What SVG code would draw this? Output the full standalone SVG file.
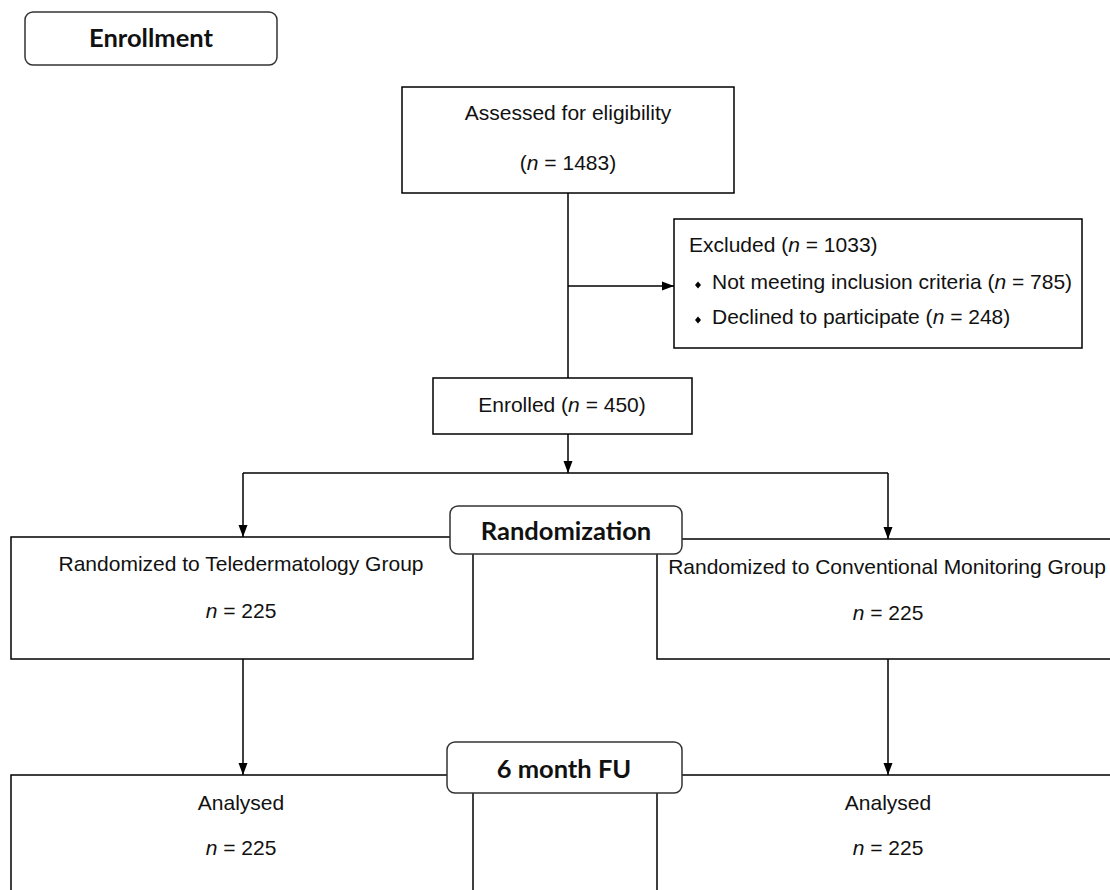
<svg xmlns="http://www.w3.org/2000/svg" width="1110" height="890" viewBox="0 0 1110 890">
<defs>
<marker id="arr" markerUnits="userSpaceOnUse" markerWidth="12" markerHeight="10" refX="12" refY="5" orient="auto">
<path d="M0,0.5 L12,5 L0,9.5 Z" fill="#000"/>
</marker>
</defs>
<style>
.box{fill:#fff;stroke:#000;stroke-width:1.5}
.rbox{fill:#fff;stroke:#333;stroke-width:1.5}
.t{font-family:"Liberation Sans",Arial,sans-serif;font-size:21px;fill:#111}
.b{font-family:Lato,"Open Sans",sans-serif;font-weight:bold;font-size:25.5px;fill:#111}
.c{stroke:#000;stroke-width:1.5;fill:none}
</style>
<rect width="1110" height="890" fill="#fff"/>
<g id="connectors">
<path class="c" d="M568,193 V378"/>
<path class="c" d="M568,286 H674" marker-end="url(#arr)"/>
<path class="c" d="M568,434 V473" marker-end="url(#arr)"/>
<path class="c" d="M243,473 H888"/>
<path class="c" d="M243,473 V537" marker-end="url(#arr)"/>
<path class="c" d="M888,473 V539" marker-end="url(#arr)"/>
<path class="c" d="M243,659 V775" marker-end="url(#arr)"/>
<path class="c" d="M888,659 V775" marker-end="url(#arr)"/>
</g>
<g id="enrollment">
<rect class="rbox" x="25" y="12" width="252" height="53" rx="8"/>
<text class="b" x="151" y="47" text-anchor="middle">Enrollment</text>
</g>
<g id="assessed">
<rect class="box" x="402" y="87" width="332" height="106"/>
<text class="t" x="568" y="120" text-anchor="middle">Assessed for eligibility</text>
<text class="t" x="568" y="170" text-anchor="middle">(<tspan font-style="italic">n</tspan> = 1483)</text>
</g>
<g id="excluded">
<rect class="box" x="674" y="219" width="408" height="129"/>
<text class="t" x="689" y="252">Excluded (<tspan font-style="italic">n</tspan> =  1033)</text>
<path d="M695,285 l3,-3.5 l3,3.5 l-3,3.5 Z" fill="#000"/>
<text class="t" x="712" y="289">Not meeting inclusion criteria (<tspan font-style="italic">n</tspan> = 785)</text>
<path d="M695,320 l3,-3.5 l3,3.5 l-3,3.5 Z" fill="#000"/>
<text class="t" x="712" y="324">Declined to participate (<tspan font-style="italic">n</tspan> = 248)</text>
</g>
<g id="enrolled">
<rect class="box" x="433" y="378" width="259" height="56"/>
<text class="t" x="562" y="412" text-anchor="middle">Enrolled (<tspan font-style="italic">n</tspan> = 450)</text>
</g>
<g id="tele">
<rect class="box" x="11" y="537" width="462" height="122"/>
<text class="t" x="241" y="571" text-anchor="middle">Randomized to Teledermatology Group</text>
<text class="t" x="241" y="618" text-anchor="middle"><tspan font-style="italic">n</tspan> = 225</text>
</g>
<g id="conv">
<rect class="box" x="657" y="539" width="460" height="120"/>
<text class="t" x="887" y="574" text-anchor="middle">Randomized to Conventional Monitoring Group</text>
<text class="t" x="888" y="620" text-anchor="middle"><tspan font-style="italic">n</tspan> = 225</text>
</g>
<g id="randomization">
<rect class="rbox" x="450" y="506" width="232" height="48" rx="8"/>
<text class="b" x="566" y="540" text-anchor="middle">Randomization</text>
</g>
<g id="analysed-left">
<rect class="box" x="11" y="775" width="462" height="130"/>
<text class="t" x="241" y="810" text-anchor="middle">Analysed</text>
<text class="t" x="241" y="855" text-anchor="middle"><tspan font-style="italic">n</tspan> = 225</text>
</g>
<g id="analysed-right">
<rect class="box" x="657" y="775" width="460" height="130"/>
<text class="t" x="888" y="810" text-anchor="middle">Analysed</text>
<text class="t" x="888" y="855" text-anchor="middle"><tspan font-style="italic">n</tspan> = 225</text>
</g>
<g id="fu">
<rect class="rbox" x="447" y="742" width="235" height="51" rx="8"/>
<text class="b" x="564" y="778" text-anchor="middle">6 month FU</text>
</g>
</svg>
